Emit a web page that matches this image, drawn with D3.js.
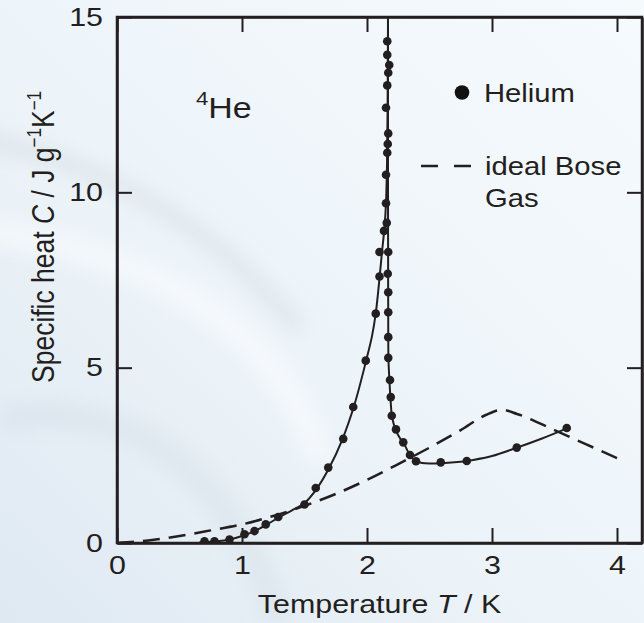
<!DOCTYPE html>
<html><head><meta charset="utf-8">
<script src="https://cdn.jsdelivr.net/npm/d3@7/dist/d3.min.js"></script>
<style>html,body{margin:0;padding:0;background:#eef5fa;}svg{display:block;font-family:"Liberation Sans",Arial,Helvetica,sans-serif;}</style>
</head><body>
<svg id="chart" width="644" height="623"></svg>
<script>
// ---- data ----
const xTicks = [0, 1, 2, 3, 4];
const yTicks = [0, 5, 10, 15];
const xLabel = "Temperature";
const legendLabels = ["Helium", "ideal Bose", "Gas"];

// measured specific heat of helium-4 (T in K, C in J/g/K)
const heliumT = [0.70,0.78,0.90,1.02,1.10,1.19,1.29,1.50,1.59,1.69,1.81,1.89,1.99,2.07,2.10,2.10,2.136,2.152,
  2.162,2.162,2.178,2.170,2.162,2.152,2.170,2.166,2.162,2.152,
  2.158,2.170,2.166,2.170,2.170,2.170,2.170,2.184,2.190,2.198,2.232,2.290,2.344,2.392,2.590,2.798,3.198,3.598];
const heliumC = [0.05,0.05,0.10,0.25,0.34,0.53,0.74,1.10,1.57,2.15,2.97,3.88,5.20,6.54,7.60,8.30,8.90,9.69,
  14.31,13.92,13.63,13.41,13.05,12.41,11.68,11.38,11.13,10.50,
  9.13,8.30,7.68,7.15,6.58,5.87,5.28,4.65,4.16,3.63,3.24,2.87,2.51,2.33,2.30,2.34,2.72,3.28];

// smooth fitted helium curve, below and above the lambda point
const fitLowT = [0.66,0.80,0.90,1.00,1.10,1.20,1.30,1.40,1.50,1.60,1.70,1.80,1.90,2.00,2.04,2.07,2.10,2.12,2.14,2.152,2.160,2.165,2.168];
const fitLowC = [0.02,0.05,0.10,0.20,0.34,0.53,0.74,0.93,1.14,1.56,2.16,2.93,3.95,5.30,5.90,6.55,7.55,8.30,9.00,9.70,10.8,12.5,15.0];
const fitHighT = [2.168,2.168,2.168,2.169,2.170,2.172,2.180,2.190,2.200,2.230,2.270,2.300,2.340,2.380,2.440,2.550,2.700,2.850,3.000,3.200,3.400,3.580];
const fitHighC = [15.0,12.0,10.0,8.0,6.0,5.2,4.6,4.0,3.6,3.22,2.95,2.80,2.53,2.36,2.28,2.27,2.30,2.37,2.48,2.72,2.98,3.24];

// ideal Bose gas
const boseT = [0,0.25,0.5,0.75,1.0,1.25,1.5,1.75,2.0,2.25,2.5,2.75,2.95,3.08,3.2,3.5,3.75,4.0];
const boseC = [0,0.07,0.20,0.36,0.53,0.77,1.06,1.40,1.80,2.25,2.72,3.22,3.65,3.80,3.68,3.22,2.82,2.42];

// ---- layout ----
const W = 644, H = 623;
const SX = 1.17; // horizontal glyph stretch seen in the reference lettering
const svg = d3.select("#chart");
const x = d3.scaleLinear().domain([0, 4.2]).range([117, 642]);
const y = d3.scaleLinear().domain([0, 15]).range([543, 17]);
const ink = "#231f20";

// background
const defs = svg.append("defs");
const g1 = defs.append("linearGradient").attr("id","bg").attr("x1","100%").attr("y1","0%").attr("x2","0%").attr("y2","100%");
g1.append("stop").attr("offset","0%").attr("stop-color","#f5fafd");
g1.append("stop").attr("offset","55%").attr("stop-color","#edf4f9");
g1.append("stop").attr("offset","100%").attr("stop-color","#dfe9f2");
defs.append("filter").attr("id","blur").append("feGaussianBlur").attr("stdDeviation",10);
svg.append("rect").attr("width",W).attr("height",H).attr("fill","url(#bg)");
const sw = svg.append("g").attr("filter","url(#blur)").attr("fill","none");
sw.append("path").attr("d","M-20,140 C100,160 220,230 300,330").attr("stroke","#c9d3dc").attr("stroke-width",14).attr("opacity",0.5);
sw.append("path").attr("d","M-20,230 C150,250 280,330 320,460").attr("stroke","#ffffff").attr("stroke-width",22).attr("opacity",0.55);
sw.append("path").attr("d","M0,420 C100,400 220,440 280,623").attr("stroke","#d2dce5").attr("stroke-width",26).attr("opacity",0.45);

// axes (ticks inward on all four sides)
const axB = svg.append("g").attr("transform",`translate(0,${y(0)})`)
  .call(d3.axisBottom(x).tickValues(xTicks).tickSizeInner(-15).tickSizeOuter(0).tickPadding(13).tickFormat(d3.format("d")));
const axT = svg.append("g").attr("transform",`translate(0,${y(15)})`)
  .call(d3.axisTop(x).tickValues(xTicks).tickSizeInner(-15).tickSizeOuter(0).tickFormat(""));
const axL = svg.append("g").attr("transform",`translate(${x(0)},0)`)
  .call(d3.axisLeft(y).tickValues(yTicks).tickSizeInner(-15).tickSizeOuter(0).tickPadding(14).tickFormat(d3.format("d")));
const axR = svg.append("g").attr("transform",`translate(${x(4.2)},0)`)
  .call(d3.axisRight(y).tickValues(yTicks).tickSizeInner(-15).tickSizeOuter(0).tickFormat(""));
[axB,axT,axL,axR].forEach(a=>{
  a.select(".domain").attr("stroke",ink).attr("stroke-width",2.5);
  a.selectAll(".tick line").attr("stroke",ink).attr("stroke-width",2);
  a.selectAll("text").attr("fill",ink).attr("font-size",26).attr("font-family",'"Liberation Sans",Arial,sans-serif');
});
axB.selectAll("text").attr("dy","0.71em").attr("transform",`scale(${SX},1)`);
axL.selectAll("text").attr("x",-14/SX).attr("transform",`scale(${SX},1)`);
// frame
svg.append("rect").attr("x",x(0)).attr("y",y(15)).attr("width",x(4.2)-x(0)).attr("height",y(0)-y(15))
  .attr("fill","none").attr("stroke",ink).attr("stroke-width",2.5);

function stretched(px, py){ return svg.append("g").attr("transform",`translate(${px},${py}) scale(${SX},1)`); }

// x axis title
const xt = stretched((x(0)+x(4.2))/2, 613).append("text").attr("text-anchor","middle")
  .attr("font-size",26).attr("fill",ink);
xt.append("tspan").text(xLabel + " ");
xt.append("tspan").attr("font-style","italic").text("T");
xt.append("tspan").text(" / K");

// y axis title
const yt = svg.append("g").attr("transform",`translate(54,383) scale(${SX},1) rotate(-90)`).append("text")
  .attr("text-anchor","start").attr("font-size",26.5).attr("fill",ink);
yt.append("tspan").text("Specific heat ");
yt.append("tspan").attr("font-style","italic").text("C");
yt.append("tspan").text(" / J g");
yt.append("tspan").attr("font-size",17).attr("dy",-11).text("\u22121");
yt.append("tspan").attr("dy",11).text("K");
yt.append("tspan").attr("font-size",17).attr("dy",-11).text("\u22121");

// 4He label
const he = stretched(196, 118).append("text").attr("fill",ink);
he.append("tspan").attr("font-size",19).attr("dy",-13).text("4");
he.append("tspan").attr("font-size",29).attr("dy",13).text("He");

// lines
const line = d3.line().x(d=>x(d[0])).y(d=>y(d[1]));
const plotClip = defs.append("clipPath").attr("id","pc");
plotClip.append("rect").attr("x",x(0)).attr("y",y(15)).attr("width",x(4.2)-x(0)).attr("height",y(0)-y(15));
const plot = svg.append("g").attr("clip-path","url(#pc)");

plot.append("path").datum(boseT.map((t,i)=>[t,boseC[i]]))
  .attr("d", line.curve(d3.curveMonotoneX)).attr("fill","none").attr("stroke",ink)
  .attr("stroke-width",2.5).attr("stroke-dasharray","17,9");

const lineC = d3.line().x(d=>x(d[0])).y(d=>y(d[1])).curve(d3.curveCatmullRom.alpha(0.5));
plot.append("path").datum(fitLowT.map((t,i)=>[t,fitLowC[i]]))
  .attr("d", lineC).attr("fill","none").attr("stroke",ink).attr("stroke-width",2);
plot.append("path").datum(fitHighT.map((t,i)=>[t,fitHighC[i]]))
  .attr("d", lineC).attr("fill","none").attr("stroke",ink).attr("stroke-width",2);

plot.selectAll("circle.pt").data(heliumT.map((t,i)=>[t,heliumC[i]])).enter().append("circle")
  .attr("class","pt").attr("cx",d=>x(d[0])).attr("cy",d=>y(d[1])).attr("r",4.3).attr("fill",ink);

// legend
svg.append("circle").attr("cx",462).attr("cy",92.5).attr("r",7.3).attr("fill","#111");
stretched(484, 101.5).append("text").attr("font-size",25).attr("fill",ink).text(legendLabels[0]);
svg.append("line").attr("x1",421).attr("x2",471).attr("y1",166).attr("y2",166).attr("stroke",ink)
  .attr("stroke-width",2.5).attr("stroke-dasharray","17,16");
stretched(485, 175).append("text").attr("font-size",25).attr("fill",ink).text(legendLabels[1]);
stretched(485, 207).append("text").attr("font-size",25).attr("fill",ink).text(legendLabels[2]);
</script>
</body></html>
